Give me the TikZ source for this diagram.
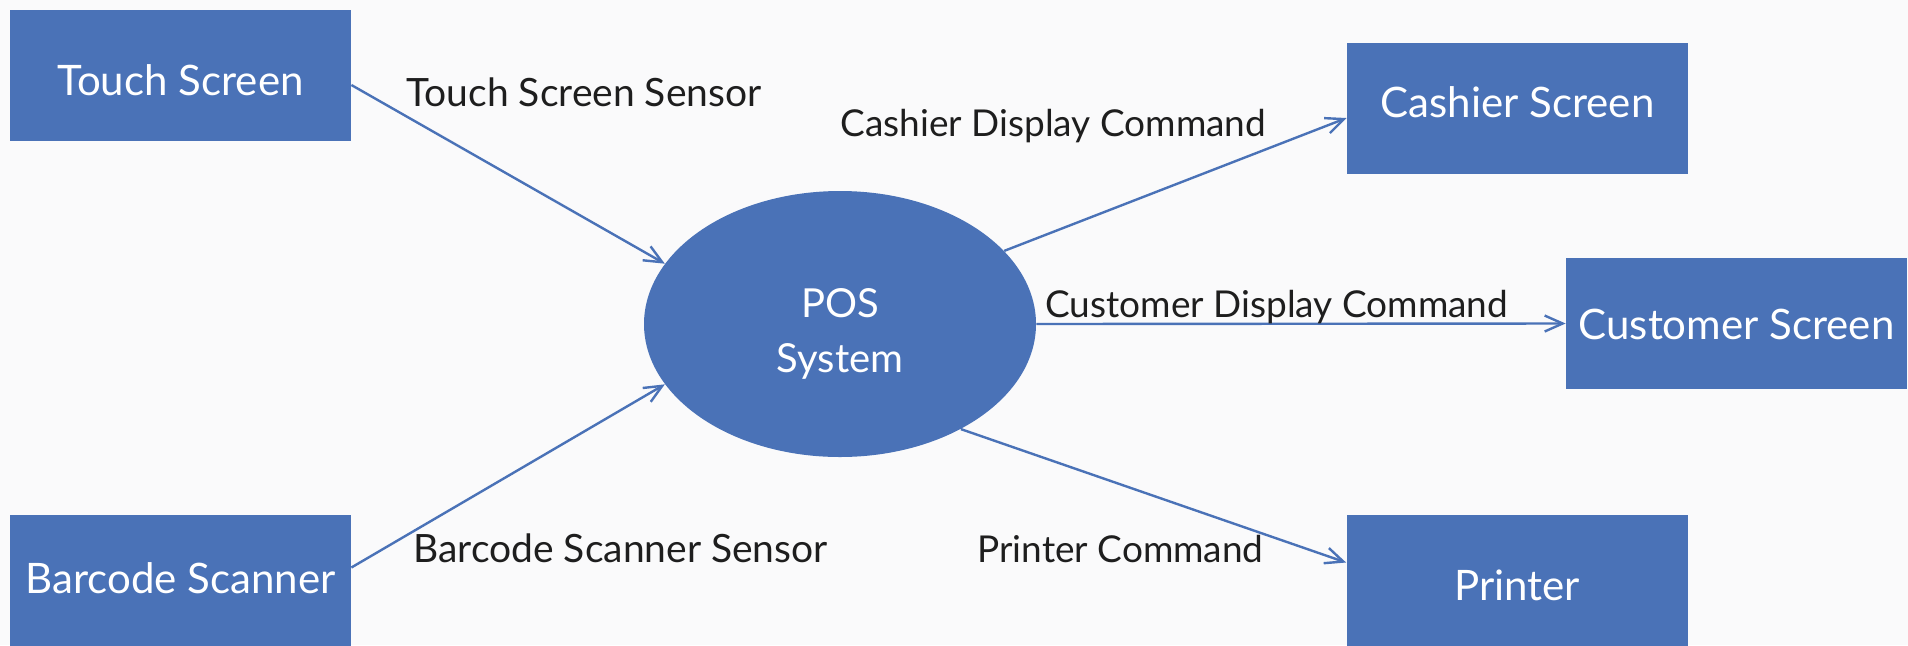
\documentclass[tikz,border=0pt]{standalone}
\usepackage{fontspec}
\setmainfont{Lato}
\usetikzlibrary{arrows.meta,shapes.geometric}
\definecolor{bg}{RGB}{250,250,251}
\definecolor{boxblue}{RGB}{74,114,183}
\definecolor{ink}{RGB}{30,30,30}
\tikzset{
  ent/.style={draw=none,fill=boxblue,text=white,minimum width=170.5pt,minimum height=65.5pt,inner sep=0pt,font=\fontsize{21}{25}\selectfont},
  tb/.style={text height=#1,text depth=0pt},
  proc/.style={ellipse,draw=none,fill=boxblue,minimum width=196pt,minimum height=133pt,inner sep=0pt},
  proctext/.style={text=white,align=center,inner sep=0pt,font=\fontsize{20}{27.5}\selectfont},
  flow/.style={draw=boxblue,line width=1.2pt,-{Straight Barb[length=9pt,width=8pt,line width=1.2pt]}},
  flowlabel/.style={anchor=base west,inner sep=0pt,text=ink,font=\fontsize{19.5}{24}\selectfont},
  cmdlabel/.style={flowlabel,font=\fontsize{18.5}{24}\selectfont}
}
\begin{document}
\begin{tikzpicture}[x=0.5pt,y=-0.5pt]
\useasboundingbox (0,0) rectangle (1908,645);
\clip (0,0) rectangle (1908,645);
\fill[bg] (0,0) rectangle (1908,645);
\node[ent,tb=20pt] (ts) at (180.5,75) {Touch Screen};
\node[ent,tb=12.5pt] (bs) at (180.5,580.5) {Barcode Scanner};
\node[ent,tb=8.5pt] (cs) at (1517.5,108.5) {Cashier Screen};
\node[ent,tb=15.5pt] (cu) at (1736.5,323.5) {Customer Screen};
\node[ent,tb=19.5pt] (pr) at (1517,580.5) {Printer};
\node[proc,label={[proctext,yshift=-5pt]center:{POS\\System}}] (pos) at (840,324) {};
\draw[flow] ([yshift=-5pt]ts.east) -- (pos.161);
\draw[flow] ([yshift=6.5pt]bs.east) -- (pos.199);
\draw[flow] (pos.24.6) -- ([yshift=-4.75pt]cs.west);
\draw[flow] (pos.east) -- (cu.west);
\draw[flow] (pos.319) -- ([yshift=9pt]pr.west);
\node[flowlabel] (l1) at (406,106) {Touch Screen Sensor};
\node[cmdlabel] (l2) at (840,136) {Cashier Display Command};
\node[cmdlabel] (l3) at (1045,317) {Customer Display Command};
\node[flowlabel] (l4) at (413,562) {Barcode Scanner Sensor};
\node[cmdlabel] (l5) at (977,562) {Printer Command};
\end{tikzpicture}
\end{document}
